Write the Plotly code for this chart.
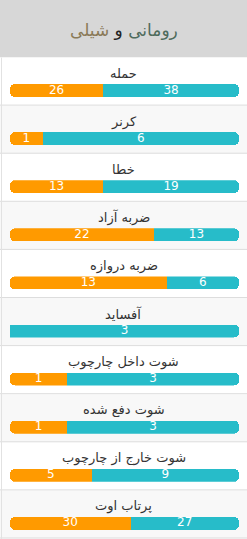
import plotly.graph_objects as go

# ---- data ----
title_team_a = "رومانی"
title_team_b = "شیلی"
categories = ["حمله", "کرنر", "خطا", "ضربه آزاد", "ضربه دروازه", "آفساید",
              "شوت داخل چارچوب", "شوت دفع شده", "شوت خارج از چارچوب", "پرتاب اوت"]
left_values = [26, 1, 13, 22, 13, 0, 1, 1, 5, 30]     # orange
right_values = [38, 6, 19, 13, 6, 3, 3, 3, 9, 27]     # teal

# ---- style ----
W, H = 247, 539
ORANGE = "#FF9A00"
TEAL = "#27BCC9"
FONT = "DejaVu Sans"
TITLE_H = 57.5
ROW_H = 48.1
BAR_TOP, BAR_BOT = 26.5, 39.5
LABEL_Y = 16
X0, X1 = 10 / W, 239 / W


def py(px):
    return 1 - px / H


fig = go.Figure()
shapes = []
annotations = []

# title bar
shapes.append(dict(type="rect", xref="paper", yref="paper", x0=0, x1=1, y0=py(TITLE_H), y1=1,
                   fillcolor="#D7D7D7", line_width=0, layer="below"))
annotations.append(dict(
    xref="paper", yref="paper", x=0.5, y=py(TITLE_H / 2 + 1), showarrow=False,
    text=f"<span style='color:#4E6B5C'>{title_team_a}</span> <span style='color:#222'>و</span> "
         f"<span style='color:#8A7A58'>{title_team_b}</span>",
    font=dict(family=FONT, size=17), xanchor="center", yanchor="middle"))

for i, (cat, a, b) in enumerate(zip(categories, left_values, right_values)):
    k = i + 1
    top = TITLE_H + i * ROW_H
    bottom = top + ROW_H
    bg = "#FFFFFF" if i % 2 == 0 else "#F8F8F8"
    shapes.append(dict(type="rect", xref="paper", yref="paper", x0=0, x1=1,
                       y0=py(bottom), y1=py(top), fillcolor=bg, line_width=0, layer="below"))
    shapes.append(dict(type="line", xref="paper", yref="paper", x0=0, x1=1,
                       y0=py(bottom - 0.5), y1=py(bottom - 0.5),
                       line=dict(color="#DDDDDD", width=1)))
    annotations.append(dict(xref="paper", yref="paper", x=0.5, y=py(top + LABEL_Y),
                            text=cat, showarrow=False, xanchor="center", yanchor="middle",
                            font=dict(family=FONT, size=13, color="#333333")))
    t = a + b
    xa = "x" if k == 1 else f"x{k}"
    ya = "y" if k == 1 else f"y{k}"
    common = dict(orientation="h", y=[0], xaxis=xa, yaxis=ya, textposition="none",
                  hoverinfo="skip", showlegend=False)
    fig.add_trace(go.Bar(x=[-a / t], marker=dict(color=ORANGE, line_width=0), **common))
    fig.add_trace(go.Bar(x=[b / t], marker=dict(color=TEAL, line_width=0), **common))
    # value labels centred on each segment
    lx, lt = [], []
    if a:
        lx.append(-a / t / 2)
        lt.append(str(a))
    if b:
        lx.append(b / t / 2)
        lt.append(str(b))
    fig.add_trace(go.Scatter(x=lx, y=[0] * len(lx), text=lt, mode="text", xaxis=xa, yaxis=ya,
                             textposition="middle center", cliponaxis=False,
                             textfont=dict(family=FONT, size=12, color="white"),
                             hoverinfo="skip", showlegend=False))
    ax = dict(domain=[X0, X1], range=[-a / t, b / t], visible=False, fixedrange=True,
              anchor=ya)
    ay = dict(domain=[py(top + BAR_BOT), py(top + BAR_TOP)], range=[-0.5, 0.5], visible=False,
              fixedrange=True, anchor=xa)
    fig.layout["xaxis" if k == 1 else f"xaxis{k}"] = ax
    fig.layout["yaxis" if k == 1 else f"yaxis{k}"] = ay

# left border
shapes.append(dict(type="line", xref="paper", yref="paper", x0=1.5 / W, x1=1.5 / W,
                   y0=0, y1=py(TITLE_H), line=dict(color="#E2E2E2", width=1)))

fig.update_layout(
    width=W, height=H, margin=dict(l=0, r=0, t=0, b=0),
    paper_bgcolor="white", plot_bgcolor="rgba(0,0,0,0)",
    barmode="relative", bargap=0, barcornerradius=5,
    shapes=shapes, annotations=annotations,
    font=dict(family=FONT),
)
fig.write_html("out.html", config={"displayModeBar": False})
